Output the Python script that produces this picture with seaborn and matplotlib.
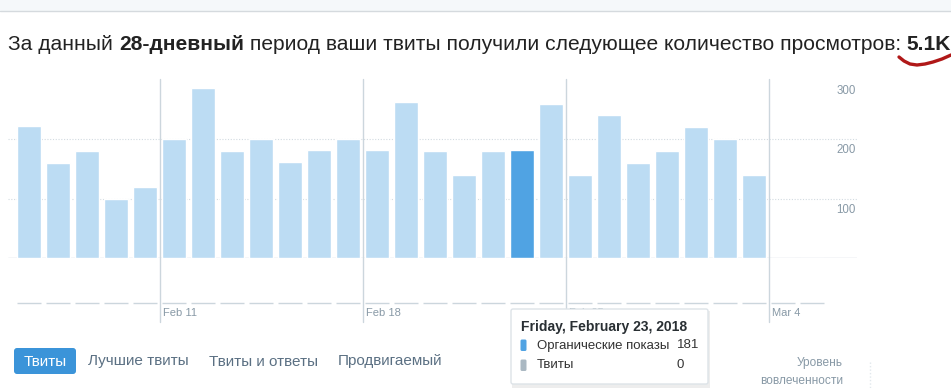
import pandas as pd
import numpy as np
import matplotlib
matplotlib.use("Agg")
import matplotlib.pyplot as plt
import seaborn as sns
from matplotlib.patches import FancyBboxPatch, Rectangle

# 28-day period, Feb 6 .. Mar 5 2018
days = pd.date_range("2018-02-06", "2018-03-05")
impressions = [222, 159, 179, 100, 119, 200, 285, 179, 200, 161, 181, 200, 181,
               262, 179, 140, 179, 181, 259, 140, 240, 159, 179, 219, 200, 139, 0, 0]
tweets = [0] * 28
week_labels = ["Feb 11", "Feb 18", "Feb 25", "Mar 4"]
y_ticks = [100, 200, 300]
selected = "Feb 23"

sns.set_style("white")
plt.rcParams["font.family"] = ["Liberation Sans", "DejaVu Sans"]

W, H = 951, 388
fig = plt.figure(figsize=(W / 100, H / 100), dpi=100)


def fx(x):
    return x / W


def fy(y):
    return 1 - y / H


labels = [f"{d:%b} {d.day}" for d in days]
df = pd.DataFrame({"day": labels, "impressions": impressions})
light, dark = "#bcdcf3", "#50a3e3"
colors = [dark if l == selected else light for l in labels]

# main chart, x in day units (bar centres at 0..27)
x0, x1 = (8 - 29.05) / 29, (857 - 29.05) / 29
ax = fig.add_axes([fx(8), fy(258.3), fx(857) - fx(8), (258.3 - 79) / H])
sns.barplot(data=df, x="day", y="impressions", hue="day", palette=colors,
            width=0.85, saturation=1, legend=False, ax=ax)
ax.set_xlim(x0, x1)
ax.set_ylim(0, 300)
ax.set_axis_off()
for v in [100, 200]:
    ax.axhline(v, color="#d3dbe1", lw=0.8, ls=(0, (1, 1.5)), zorder=0)
ax.axhline(0, color="#ccd6dd", lw=1, zorder=0)
for v in y_ticks:
    ax.annotate(str(v), xy=(1, v), xycoords=("axes fraction", "data"),
                xytext=(-1, -4), textcoords="offset points",
                ha="right", va="top", fontsize=8.3, color="#8899a6")
low = -(322 - 258.3) / (258.3 - 79)
for lbl in week_labels:
    i = labels.index(lbl)
    ax.axvline(i - 0.5, ymin=low, ymax=1, clip_on=False, color="#ccd6dd", lw=1, zorder=0)

# tweets sub-chart (all zero -> dashes)
ax2 = fig.add_axes([fx(8), fy(322), fx(857) - fx(8), 42 / H])
ax2.set_xlim(x0, x1)
ax2.set_ylim(-0.452, 0.548)
ax2.set_axis_off()
xs = np.arange(len(tweets))
ax2.hlines(tweets, xs - 0.425, xs + 0.425, color="#ccd6dd", lw=1)
for lbl in week_labels:
    i = labels.index(lbl)
    ax2.annotate(lbl, xy=(i - 0.5, 0), xytext=(2.7, -7.2), textcoords="offset points",
                 ha="left", va="center", fontsize=8, color="#8899a6")

# overlay in pixel coordinates
ov = fig.add_axes([0, 0, 1, 1], zorder=5)
ov.set_xlim(0, W)
ov.set_ylim(H, 0)
ov.set_axis_off()
ov.patch.set_alpha(0)

ov.add_patch(Rectangle((0, 0), W, 10.5, color="#f5f8fa", lw=0))
ov.plot([0, W], [11, 11], color="#d5dade", lw=1)

# title with bold pieces, fitted to the width
pieces = [("За данный ", "normal"), ("28-дневный", "bold"),
          (" период ваши твиты получили следующее количество просмотров: ", "normal"),
          ("5.1K", "bold")]
r = fig.canvas.get_renderer()
total = 0
for s, w in pieces:
    t = ov.text(0, 45, s, fontsize=13, fontweight=w)
    total += t.get_window_extent(r).width
    t.remove()
fs = 13 * (945 - 8) / total
x = 8
for s, w in pieces:
    t = ov.text(x, 45, s, fontsize=fs, fontweight=w,
                va="center", ha="left", color="#222222")
    x += t.get_window_extent(r).width

# red hand-drawn swoosh
ov.plot([899, 904, 910, 917, 925, 933, 942, 951], [57, 61, 64, 65, 64, 62, 59, 55],
        color="#b01818", lw=2.4, solid_capstyle="round")

# nav tabs
ov.add_patch(FancyBboxPatch((14, 348), 62, 26, boxstyle="round,pad=0,rounding_size=3",
                            fc="#3b94d9", ec="none"))
ov.text(45, 361.5, "Твиты", color="white", fontsize=11, ha="center", va="center")
for tx, s in [(88, "Лучшие твиты"), (209, "Твиты и ответы"), (338, "Продвигаемый")]:
    ov.text(tx, 361.5, s, color="#5b7083", fontsize=11, ha="left", va="center")

# engagement label
ov.text(843, 363, "Уровень", color="#8899a6", fontsize=8.6, ha="right", va="center")
ov.text(843, 381, "вовлеченности", color="#8899a6", fontsize=8.6, ha="right", va="center")
ov.plot([870, 870], [362, 388], color="#e1e8ed", lw=1, ls=(0, (1, 1.5)))

# tooltip
ov.add_patch(Rectangle((512, 311), 198, 77, color="black", alpha=0.07, lw=0))
ov.add_patch(FancyBboxPatch((511, 309), 197, 75, boxstyle="round,pad=0,rounding_size=2",
                            fc="white", ec="#dde3e8", lw=1))
ov.text(521, 327, "Friday, February 23, 2018", fontsize=10, fontweight="bold",
        color="#292f33", ha="left", va="center")
ov.add_patch(FancyBboxPatch((520.5, 339.5), 6, 11.5, boxstyle="round,pad=0,rounding_size=1.5",
                            fc=dark, ec="none"))
ov.add_patch(FancyBboxPatch((520.5, 359.5), 6, 11.5, boxstyle="round,pad=0,rounding_size=1.5",
                            fc="#aab8c2", ec="none"))
ov.text(537, 345.5, "Органические показы", fontsize=9.5, color="#333333", va="center")
ov.text(699, 345.5, str(impressions[labels.index(selected)]), fontsize=9.5,
        color="#333333", va="center", ha="right")
ov.text(537, 365.5, "Твиты", fontsize=9.5, color="#333333", va="center")
ov.text(684, 365.5, str(tweets[labels.index(selected)]), fontsize=9.5,
        color="#333333", va="center", ha="right")

fig.savefig("out.png", dpi=100)
